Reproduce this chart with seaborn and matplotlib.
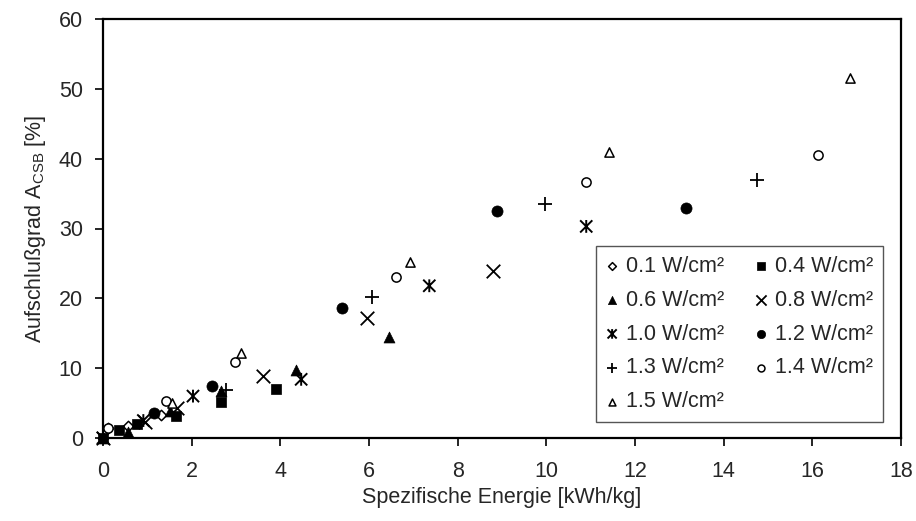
import numpy as np
import pandas as pd
import matplotlib
matplotlib.use("Agg")
import matplotlib.pyplot as plt
from matplotlib.path import Path
import seaborn as sns

# Data (specific energy [kWh/kg] vs. degree of disintegration [%])
e01 = [0, 0.12, 0.57, 1.30]
a01 = [0, 1.4, 1.7, 3.3]
e04 = [0, 0.35, 0.76, 1.64, 2.66, 3.91]
a04 = [0, 1.2, 2.0, 3.2, 5.2, 7.0]
e06 = [0, 0.57, 1.52, 2.67, 4.36, 6.44]
a06 = [0, 0.8, 3.9, 6.7, 9.8, 14.5]
e08 = [0, 0.95, 1.68, 3.61, 5.96, 8.79]
a08 = [0, 2.3, 4.3, 8.9, 17.2, 23.9]
e10 = [0, 0.91, 2.03, 4.47, 7.36, 10.90]
a10 = [0, 2.5, 6.0, 8.4, 21.8, 30.3]
e12 = [1.15, 2.45, 5.39, 8.89, 13.15]
a12 = [3.6, 7.5, 18.6, 32.5, 32.9]
e13 = [2.78, 6.07, 9.98, 14.76]
a13 = [6.9, 20.2, 33.5, 37.0]
e14 = [0.12, 1.43, 2.98, 6.60, 10.90, 16.13]
a14 = [1.5, 5.3, 10.9, 23.0, 36.7, 40.5]
e15 = [1.55, 3.12, 6.93, 11.42, 16.86]
a15 = [5.0, 12.2, 25.2, 41.0, 51.5]

labels = ["0.1 W/cm²", "0.4 W/cm²", "0.6 W/cm²", "0.8 W/cm²", "1.0 W/cm²",
          "1.2 W/cm²", "1.3 W/cm²", "1.4 W/cm²", "1.5 W/cm²"]
energies = [e01, e04, e06, e08, e10, e12, e13, e14, e15]
degrees = [a01, a04, a06, a08, a10, a12, a13, a14, a15]

# asterisk like the Excel "star" marker: X plus a vertical bar
star = Path([(0, -1), (0, 1), (-0.95, -0.95), (0.95, 0.95), (-0.95, 0.95), (0.95, -0.95)],
            [Path.MOVETO, Path.LINETO, Path.MOVETO, Path.LINETO, Path.MOVETO, Path.LINETO])

# marker, size, face, line width
styles = [
    ("D", 28, "white", 1.1),
    ("s", 48, "black", 0.5),
    ("^", 62, "black", 0.5),
    ("x", 95, None, 1.3),
    (star, 85, "none", 1.4),
    ("o", 64, "black", 0.5),
    ("+", 100, None, 1.3),
    ("o", 44, "white", 1.1),
    ("^", 44, "white", 1.1),
]

sns.set_style("white")
plt.rcParams["font.family"] = ["Liberation Sans", "DejaVu Sans"]
plt.rcParams["mathtext.fontset"] = "custom"
plt.rcParams["mathtext.rm"] = "Liberation Sans"

fs = 15.5

fig = plt.figure(figsize=(9.16, 5.21), dpi=100)
ax = fig.add_axes([103 / 916, 1 - 438 / 521, 798 / 916, 419 / 521])

for lab, x, y, (mk, sz, fc, lw) in zip(labels, energies, degrees, styles):
    df = pd.DataFrame({"x": x, "y": y})
    if fc is None:
        sns.scatterplot(data=df, x="x", y="y", ax=ax, marker=mk, s=sz, color="black",
                        linewidth=lw, label=lab, clip_on=False, zorder=3)
    else:
        sns.scatterplot(data=df, x="x", y="y", ax=ax, marker=mk, s=sz, facecolor=fc,
                        edgecolor="black", linewidth=lw, label=lab, clip_on=False, zorder=3)

ax.set_xlim(0, 18)
ax.set_ylim(0, 60)
ax.set_xticks(np.arange(0, 19, 2))
ax.set_yticks(np.arange(0, 61, 10))
ax.tick_params(axis="both", direction="out", length=5.5, width=1.2, color="black",
               labelsize=fs, left=True, bottom=True)
ax.tick_params(axis="x", pad=11)
ax.tick_params(axis="y", pad=9)
for sp in ax.spines.values():
    sp.set_color("black")
    sp.set_linewidth(1.6)

ax.set_xlabel("Spezifische Energie [kWh/kg]", fontsize=fs, labelpad=4)
ax.set_ylabel(r"Aufschlußgrad A$_{\mathrm{CSB}}$ [%]", fontsize=fs, labelpad=8)

# row-wise legend order as in the original (two columns)
handles, labs = ax.get_legend_handles_labels()
order = [0, 2, 4, 6, 8, 1, 3, 5, 7]
leg = ax.legend([handles[i] for i in order], [labs[i] for i in order],
                ncol=2, loc="lower right", bbox_to_anchor=(0.977, 0.038), borderaxespad=0,
                fontsize=fs, frameon=True, fancybox=False, edgecolor="#555555",
                framealpha=1, handlelength=0.6, handletextpad=0.35, columnspacing=1.4,
                labelspacing=0.6, borderpad=0.45, markerscale=0.75)
leg.get_frame().set_linewidth(1.0)

fig.savefig("out.png", dpi=100)
